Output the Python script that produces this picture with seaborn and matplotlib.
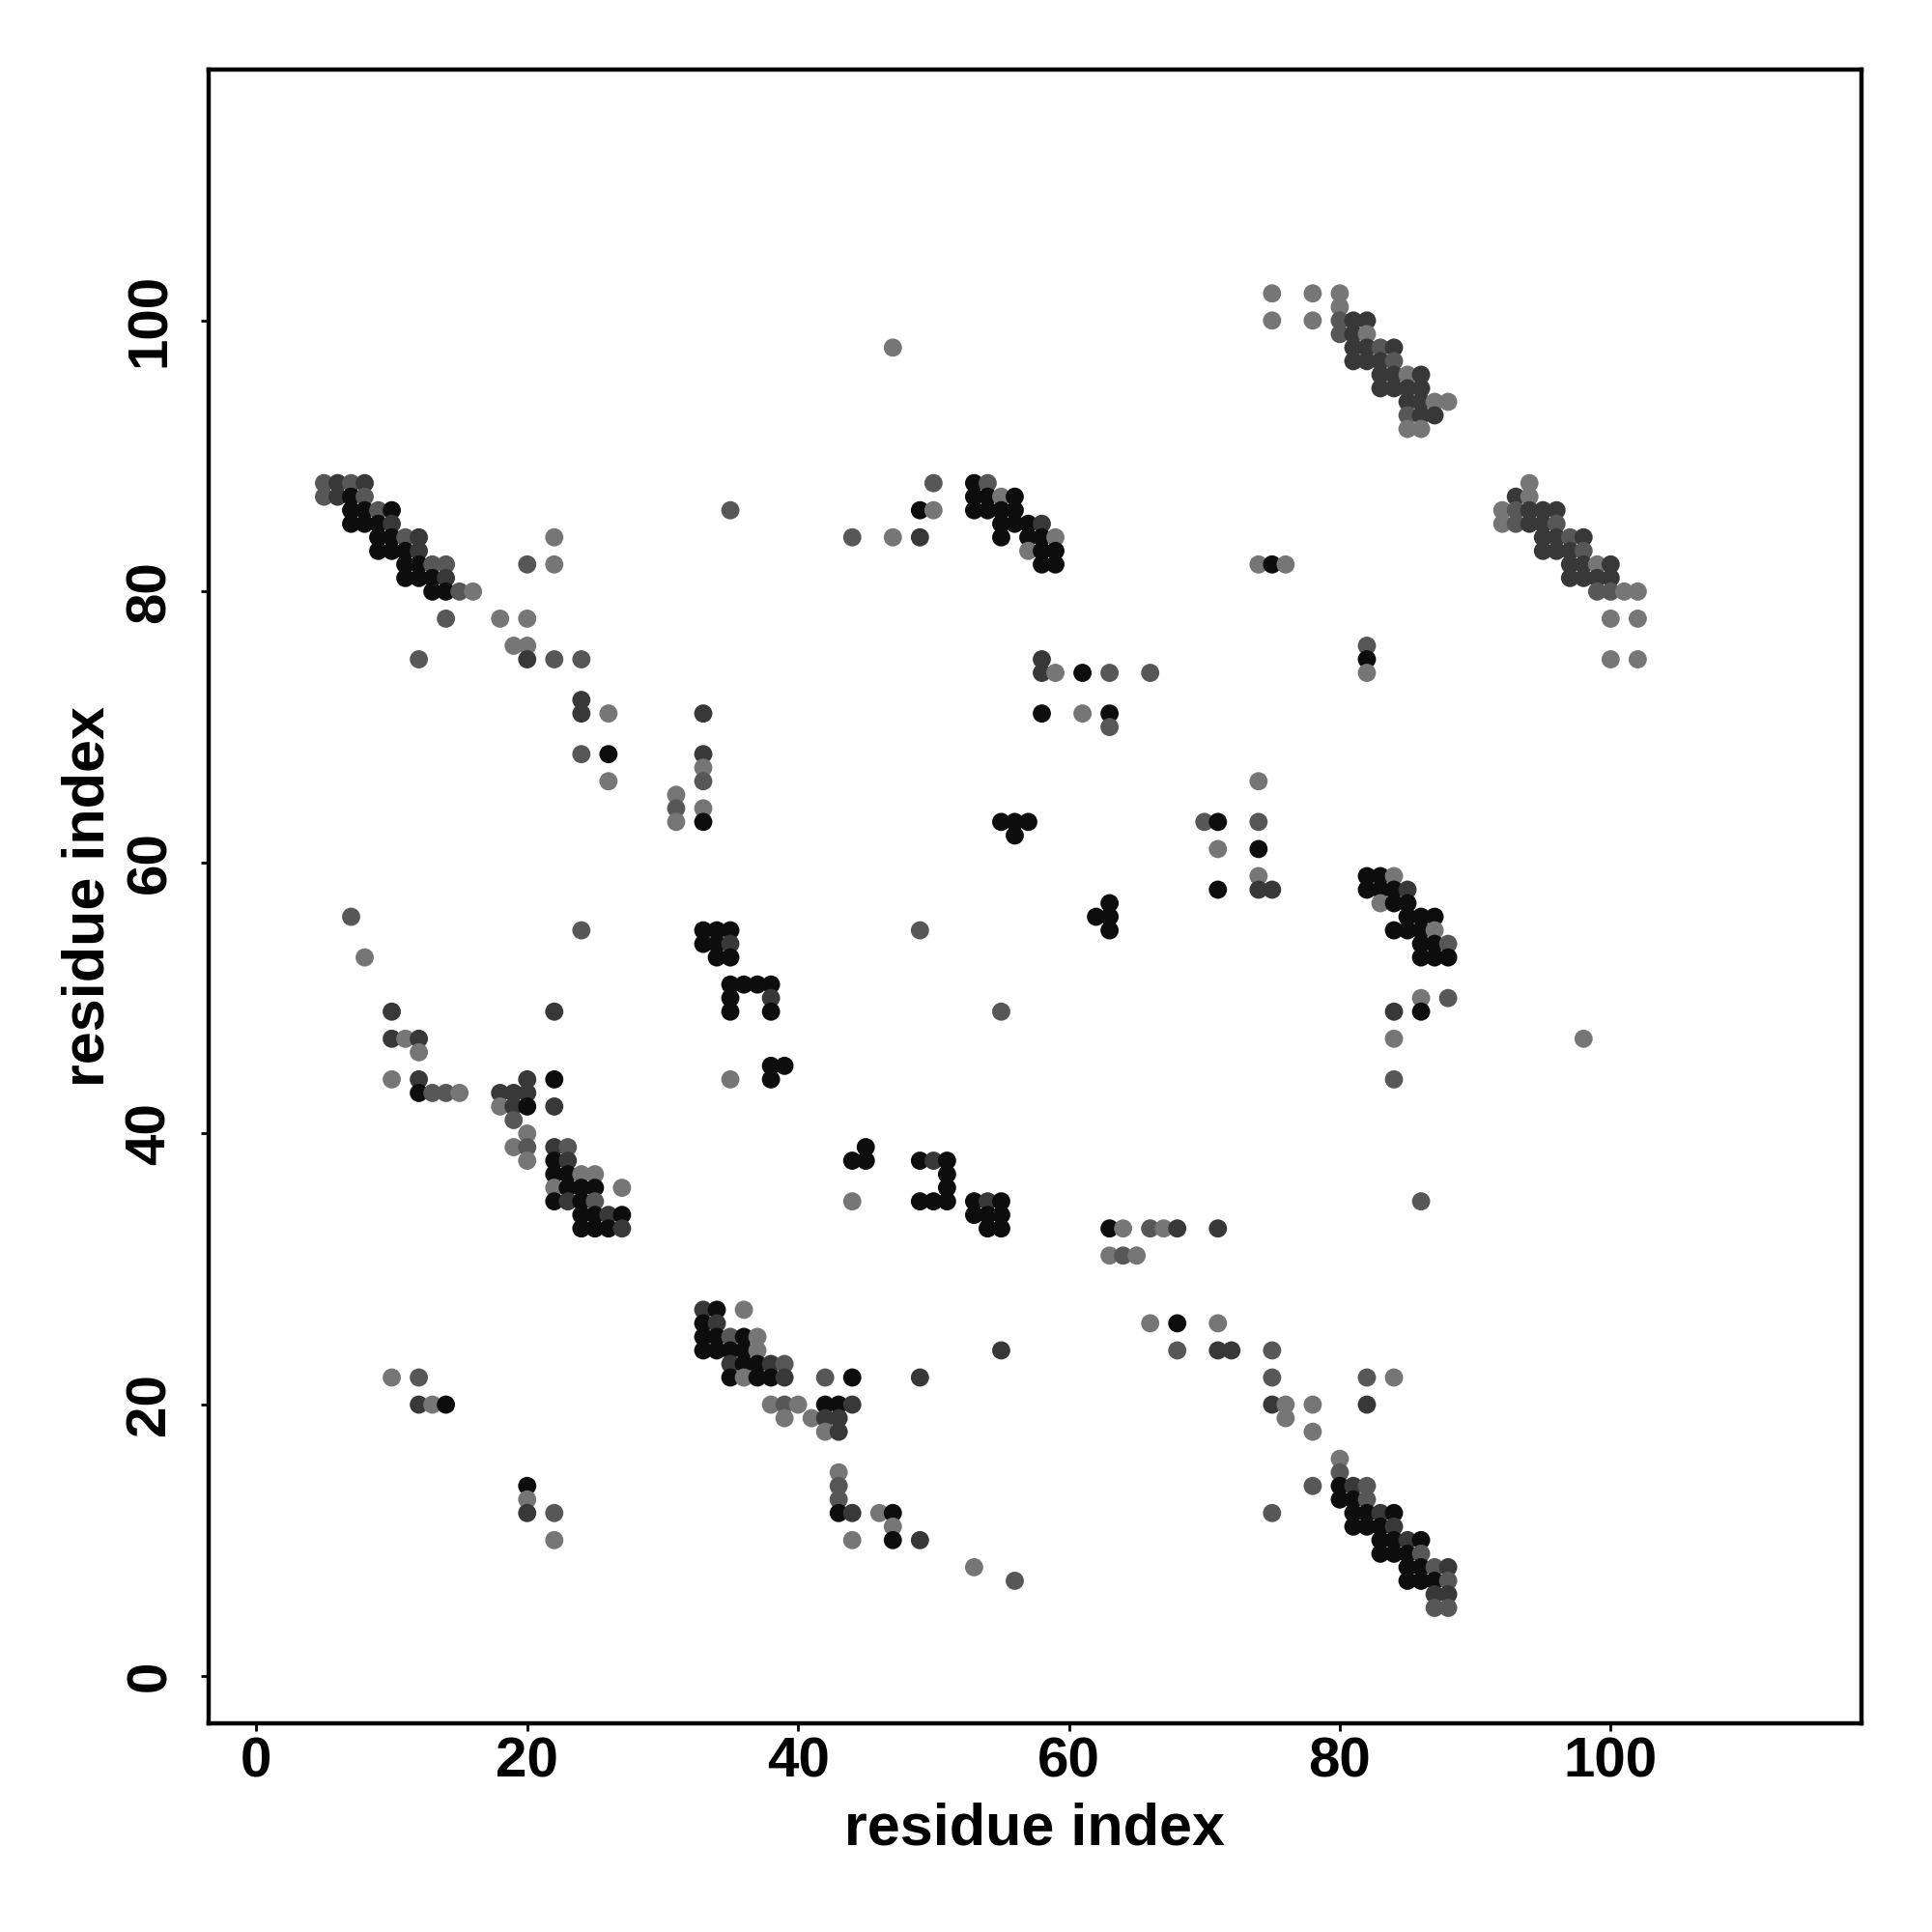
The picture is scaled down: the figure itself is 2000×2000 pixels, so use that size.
import matplotlib
matplotlib.use("Agg")
import matplotlib.pyplot as plt
import pandas as pd
import seaborn as sns

# contact map: residue i, residue j, confidence level (0 = weak ... 3 = strong)
res_x = [
    75, 78, 80,  # 102
    80,  # 101
    75, 78, 80, 81, 82,  # 100
    80, 81, 82,  # 99
    47, 81, 82, 83, 84,  # 98
    81, 82, 83, 84,  # 97
    83, 84, 85, 86,  # 96
    83, 84, 85, 86,  # 95
    85, 86, 87, 88,  # 94
    85, 86, 87,  # 93
    85, 86,  # 92
    5, 6, 7, 8, 50, 53, 54, 94,  # 88
    5, 6, 7, 8, 53, 54, 55, 56, 93, 94,  # 87
    7, 8, 9, 10, 35, 49, 50, 53, 54, 55, 56, 92, 93, 94, 95, 96,  # 86
    7, 8, 9, 10, 55, 56, 57, 58, 92, 93, 94, 95, 96,  # 85
    9, 10, 11, 12, 22, 44, 47, 49, 55, 57, 58, 59, 95, 96, 97, 98,  # 84
    9, 10, 11, 12, 57, 58, 59, 95, 96, 97, 98,  # 83
    11, 12, 13, 14, 20, 22, 58, 59, 74, 75, 76, 97, 98, 99, 100,  # 82
    11, 12, 13, 14, 97, 98, 99, 100,  # 81
    13, 14, 15, 16, 99, 100, 101, 102,  # 80
    14, 18, 20, 100, 102,  # 78
    19, 20, 82,  # 76
    12, 20, 22, 24, 58, 82, 100, 102,  # 75
    58, 59, 61, 63, 66, 82,  # 74
    24,  # 72
    24, 26, 33, 58, 61, 63,  # 71
    63,  # 70
    24, 26, 33,  # 68
    33,  # 67
    26, 33, 74,  # 66
    31,  # 65
    31, 33,  # 64
    31, 33, 55, 56, 57, 70, 71, 74,  # 63
    56,  # 62
    71, 74,  # 61
    74, 82, 83, 84,  # 59
    71, 74, 75, 82, 83, 84, 85,  # 58
    63, 83, 84, 85,  # 57
    7, 62, 63, 85, 86, 87,  # 56
    24, 33, 34, 35, 49, 63, 84, 85, 86, 87,  # 55
    33, 34, 35, 86, 87, 88,  # 54
    8, 34, 35, 86, 87, 88,  # 53
    35, 36, 37, 38,  # 51
    35, 38, 86, 88,  # 50
    10, 22, 35, 38, 55, 84, 86,  # 49
    10, 11, 12, 84, 98,  # 47
    12,  # 46
    38, 39,  # 45
    10, 12, 20, 22, 35, 38, 84,  # 44
    12, 13, 14, 15, 18, 19, 20,  # 43
    18, 19, 20, 22,  # 42
    19,  # 41
    20,  # 40
    19, 20, 22, 23, 45,  # 39
    20, 22, 23, 44, 45, 49, 50, 51,  # 38
    22, 23, 24, 25, 51,  # 37
    22, 23, 24, 25, 27, 51,  # 36
    22, 23, 24, 25, 44, 49, 50, 51, 53, 54, 55, 86,  # 35
    24, 25, 26, 27, 53, 54, 55,  # 34
    24, 25, 26, 27, 54, 55, 63, 64, 66, 67, 68, 71,  # 33
    63, 64, 65,  # 31
    33, 34, 36,  # 27
    33, 34, 66, 68, 71,  # 26
    33, 34, 35, 36, 37,  # 25
    33, 34, 35, 36, 37, 55, 68, 71, 72, 75,  # 24
    35, 36, 37, 38, 39,  # 23
    10, 12, 35, 36, 37, 38, 39, 42, 44, 49, 75, 82, 84,  # 22
    12, 13, 14, 38, 39, 40, 42, 43, 44, 75, 76, 78, 82,  # 20
    39, 41, 42, 43, 76,  # 19
    42, 43, 78,  # 18
    80,  # 16
    43, 80,  # 15
    20, 43, 78, 80, 81, 82,  # 14
    20, 43, 80, 81, 82,  # 13
    20, 22, 43, 44, 46, 47, 75, 81, 82, 83, 84,  # 12
    47, 81, 82, 83, 84,  # 11
    22, 44, 47, 49, 83, 84, 85, 86,  # 10
    83, 84, 85, 86,  # 9
    53, 85, 86, 87, 88,  # 8
    56, 85, 86, 87, 88,  # 7
    87, 88,  # 6
    87, 88,  # 5
]

res_y = [
    102, 102, 102,
    101,
    100, 100, 100, 100, 100,
    99, 99, 99,
    98, 98, 98, 98, 98,
    97, 97, 97, 97,
    96, 96, 96, 96,
    95, 95, 95, 95,
    94, 94, 94, 94,
    93, 93, 93,
    92, 92,
    88, 88, 88, 88, 88, 88, 88, 88,
    87, 87, 87, 87, 87, 87, 87, 87, 87, 87,
    86, 86, 86, 86, 86, 86, 86, 86, 86, 86, 86, 86, 86, 86, 86, 86,
    85, 85, 85, 85, 85, 85, 85, 85, 85, 85, 85, 85, 85,
    84, 84, 84, 84, 84, 84, 84, 84, 84, 84, 84, 84, 84, 84, 84, 84,
    83, 83, 83, 83, 83, 83, 83, 83, 83, 83, 83,
    82, 82, 82, 82, 82, 82, 82, 82, 82, 82, 82, 82, 82, 82, 82,
    81, 81, 81, 81, 81, 81, 81, 81,
    80, 80, 80, 80, 80, 80, 80, 80,
    78, 78, 78, 78, 78,
    76, 76, 76,
    75, 75, 75, 75, 75, 75, 75, 75,
    74, 74, 74, 74, 74, 74,
    72,
    71, 71, 71, 71, 71, 71,
    70,
    68, 68, 68,
    67,
    66, 66, 66,
    65,
    64, 64,
    63, 63, 63, 63, 63, 63, 63, 63,
    62,
    61, 61,
    59, 59, 59, 59,
    58, 58, 58, 58, 58, 58, 58,
    57, 57, 57, 57,
    56, 56, 56, 56, 56, 56,
    55, 55, 55, 55, 55, 55, 55, 55, 55, 55,
    54, 54, 54, 54, 54, 54,
    53, 53, 53, 53, 53, 53,
    51, 51, 51, 51,
    50, 50, 50, 50,
    49, 49, 49, 49, 49, 49, 49,
    47, 47, 47, 47, 47,
    46,
    45, 45,
    44, 44, 44, 44, 44, 44, 44,
    43, 43, 43, 43, 43, 43, 43,
    42, 42, 42, 42,
    41,
    40,
    39, 39, 39, 39, 39,
    38, 38, 38, 38, 38, 38, 38, 38,
    37, 37, 37, 37, 37,
    36, 36, 36, 36, 36, 36,
    35, 35, 35, 35, 35, 35, 35, 35, 35, 35, 35, 35,
    34, 34, 34, 34, 34, 34, 34,
    33, 33, 33, 33, 33, 33, 33, 33, 33, 33, 33, 33,
    31, 31, 31,
    27, 27, 27,
    26, 26, 26, 26, 26,
    25, 25, 25, 25, 25,
    24, 24, 24, 24, 24, 24, 24, 24, 24, 24,
    23, 23, 23, 23, 23,
    22, 22, 22, 22, 22, 22, 22, 22, 22, 22, 22, 22, 22,
    20, 20, 20, 20, 20, 20, 20, 20, 20, 20, 20, 20, 20,
    19, 19, 19, 19, 19,
    18, 18, 18,
    16,
    15, 15,
    14, 14, 14, 14, 14, 14,
    13, 13, 13, 13, 13,
    12, 12, 12, 12, 12, 12, 12, 12, 12, 12, 12,
    11, 11, 11, 11, 11,
    10, 10, 10, 10, 10, 10, 10, 10,
    9, 9, 9, 9,
    8, 8, 8, 8, 8,
    7, 7, 7, 7, 7,
    6, 6,
    5, 5,
]

level = [
    0, 0, 0,
    0,
    0, 0, 1, 2, 2,
    1, 2, 0,
    0, 2, 2, 1, 2,
    2, 2, 2, 1,
    2, 2, 0, 2,
    2, 2, 2, 2,
    2, 2, 0, 0,
    1, 2, 2,
    0, 0,
    1, 2, 1, 2, 1, 3, 1, 0,
    1, 2, 3, 1, 3, 3, 0, 3, 2, 0,
    3, 3, 1, 3, 1, 3, 0, 3, 3, 3, 3, 0, 1, 2, 2, 2,
    3, 3, 3, 2, 3, 3, 3, 2, 0, 1, 2, 2, 1,
    3, 3, 1, 2, 0, 1, 0, 2, 3, 3, 3, 0, 2, 2, 1, 2,
    3, 3, 3, 2, 0, 3, 3, 2, 2, 2, 1,
    3, 3, 1, 1, 1, 0, 3, 3, 0, 3, 0, 2, 2, 0, 2,
    3, 3, 3, 2, 2, 2, 2, 2,
    3, 3, 1, 0, 1, 1, 0, 0,
    1, 0, 0, 0, 0,
    0, 0, 1,
    1, 2, 1, 1, 2, 3, 0, 0,
    2, 0, 3, 1, 1, 0,
    2,
    2, 0, 2, 3, 0, 3,
    1,
    1, 3, 2,
    0,
    0, 1, 0,
    0,
    1, 0,
    0, 3, 3, 3, 3, 1, 3, 1,
    3,
    0, 3,
    0, 3, 3, 0,
    3, 2, 2, 3, 3, 3, 2,
    3, 0, 3, 3,
    1, 3, 3, 3, 3, 3,
    1, 3, 3, 3, 1, 3, 3, 3, 3, 0,
    3, 3, 2, 3, 3, 1,
    0, 3, 3, 3, 3, 3,
    3, 3, 3, 3,
    3, 2, 0, 1,
    2, 2, 3, 3, 1, 2, 3,
    2, 0, 2, 0, 0,
    0,
    3, 3,
    0, 2, 2, 3, 0, 3, 1,
    3, 1, 1, 0, 2, 2, 2,
    0, 2, 3, 2,
    1,
    0,
    0, 1, 2, 1, 3,
    0, 3, 2, 3, 3, 3, 2, 3,
    3, 3, 0, 0, 3,
    0, 3, 3, 3, 0, 3,
    3, 2, 3, 1, 0, 3, 3, 3, 3, 2, 3, 1,
    3, 3, 2, 3, 3, 3, 3,
    3, 3, 3, 2, 3, 3, 3, 0, 1, 0, 2, 2,
    0, 1, 0,
    2, 3, 0,
    3, 2, 0, 3, 0,
    3, 3, 1, 3, 0,
    3, 3, 3, 3, 0, 2, 1, 2, 2, 1,
    2, 3, 3, 2, 1,
    0, 1, 3, 0, 3, 3, 2, 1, 3, 2, 1, 1, 0,
    2, 0, 3, 0, 1, 0, 3, 3, 2, 2, 0, 0, 2,
    0, 0, 2, 2, 0,
    0, 2, 0,
    0,
    0, 1,
    3, 1, 1, 3, 2, 1,
    0, 1, 3, 3, 1,
    2, 1, 3, 2, 0, 3, 1, 3, 3, 2, 3,
    0, 3, 3, 3, 2,
    0, 0, 3, 2, 3, 3, 2, 3,
    3, 3, 3, 1,
    0, 3, 3, 1, 2,
    1, 3, 3, 3, 1,
    2, 2,
    1, 1,
]

tick_values = [0, 20, 40, 60, 80, 100]

assert len(res_x) == len(res_y) == len(level)

df = pd.DataFrame({"i": res_x, "j": res_y, "level": level})

sns.set_style("ticks")
plt.rcParams["font.family"] = ["Liberation Sans", "DejaVu Sans"]
plt.rcParams["font.weight"] = "bold"

fig = plt.figure(figsize=(10, 10), dpi=200)
ax = fig.add_axes([0.108, 0.108, 0.8555, 0.856])

grays = {0: "#767676", 1: "#575757", 2: "#383838", 3: "#0d0d0d"}
sns.scatterplot(data=df, x="i", y="j", hue="level", palette=grays,
                s=46, linewidth=0, legend=False, ax=ax)

ax.set_xlim(-3.52, 118.52)
ax.set_ylim(-3.52, 118.52)
ax.set_xticks(tick_values)
ax.set_yticks(tick_values)
ax.tick_params(axis="both", length=2.9, width=1.0, color="black",
               labelcolor="black", labelsize=21, direction="out")
ax.tick_params(axis="x", pad=2)
ax.tick_params(axis="y", pad=9)
for lab in ax.get_yticklabels():
    lab.set_rotation(90)
    lab.set_va("center")

for sp in ax.spines.values():
    sp.set_visible(True)
    sp.set_linewidth(1.6)
    sp.set_color("black")

ax.set_xlabel("residue index", fontsize=22, fontweight="bold", labelpad=5, color="black")
ax.set_ylabel("residue index", fontsize=22, fontweight="bold", labelpad=3, color="black")

plt.savefig("out.png", dpi=200)
